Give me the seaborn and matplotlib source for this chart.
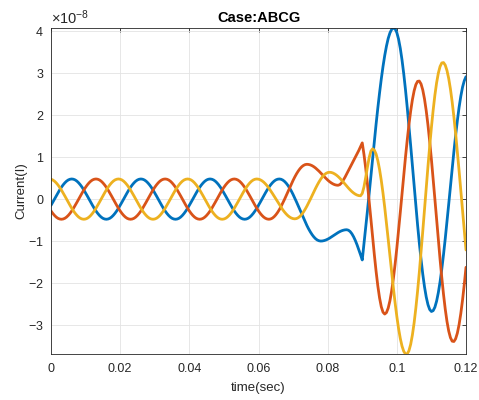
import numpy as np
import pandas as pd
import matplotlib
matplotlib.use("Agg")
import matplotlib.pyplot as plt
import seaborn as sns
from matplotlib.ticker import MultipleLocator, FixedLocator, FixedFormatter, ScalarFormatter

# Sampling grid of the recorded currents (seconds)
t_start = 0.0
t_step = 0.0005
n_samples = 241

# Phase currents in units of 1e-8
ia = [
    -0.148, -0.075,
    0, 0.075, 0.148, 0.218, 0.282, 0.339, 0.388, 0.428, 0.457, 0.474,
    0.48, 0.474, 0.457, 0.428, 0.388, 0.339, 0.282, 0.218, 0.148, 0.075,
    0, -0.075, -0.148, -0.218, -0.282, -0.339, -0.388, -0.428, -0.457, -0.474,
    -0.48, -0.474, -0.457, -0.428, -0.388, -0.339, -0.282, -0.218, -0.148, -0.075,
    0, 0.075, 0.148, 0.218, 0.282, 0.339, 0.388, 0.428, 0.457, 0.474,
    0.48, 0.474, 0.457, 0.428, 0.388, 0.339, 0.282, 0.218, 0.148, 0.075,
    0, -0.075, -0.148, -0.218, -0.282, -0.339, -0.388, -0.428, -0.457, -0.474,
    -0.48, -0.474, -0.457, -0.428, -0.388, -0.339, -0.282, -0.218, -0.148, -0.075,
    0, 0.075, 0.148, 0.218, 0.282, 0.339, 0.388, 0.428, 0.457, 0.474,
    0.48, 0.474, 0.457, 0.428, 0.388, 0.339, 0.282, 0.218, 0.148, 0.075,
    0, -0.075, -0.148, -0.218, -0.282, -0.339, -0.388, -0.428, -0.457, -0.474,
    -0.48, -0.474, -0.457, -0.428, -0.388, -0.339, -0.282, -0.218, -0.148, -0.075,
    0, 0.075, 0.148, 0.218, 0.282, 0.339, 0.388, 0.428, 0.457, 0.474,
    0.48, 0.474, 0.455, 0.424, 0.381, 0.327, 0.263, 0.191, 0.110, 0.023,
    -0.069, -0.163, -0.26, -0.357, -0.451, -0.543, -0.63, -0.711, -0.783, -0.847,
    -0.901, -0.944, -0.975, -0.993, -1.0,
    -0.997, -0.988, -0.974, -0.955, -0.933, -0.907, -0.879, -0.851, -0.823, -0.798,
    -0.775, -0.756, -0.742, -0.733, -0.73,
    -0.741, -0.773, -0.826, -0.898, -0.987, -1.09, -1.204, -1.325, -1.45,
    -1.067, -0.678, -0.281, 0.133, 0.552, 0.971, 1.385, 1.786, 2.170, 2.529,
    2.862, 3.161, 3.424, 3.647, 3.829, 3.960, 4.045, 4.079,
    4.058, 3.969, 3.813, 3.595, 3.317, 2.986, 2.609, 2.191, 1.744, 1.277,
    0.797, 0.315, -0.159, -0.616, -1.044, -1.436, -1.789, -2.090, -2.333, -2.515,
    -2.631, -2.679,
    -2.659, -2.577, -2.432, -2.229, -1.972, -1.667, -1.320, -0.942, -0.539, -0.120,
    0.305, 0.725, 1.133, 1.517, 1.870, 2.187, 2.453, 2.669, 2.822, 2.918,
]

ib = [
    -0.282, -0.339, -0.388, -0.428, -0.457, -0.474, -0.48, -0.474, -0.457, -0.428,
    -0.388, -0.339, -0.282, -0.218, -0.148, -0.075,
    0, 0.075, 0.148, 0.218, 0.282, 0.339, 0.388, 0.428, 0.457, 0.474,
    0.48, 0.474, 0.457, 0.428, 0.388, 0.339, 0.282, 0.218, 0.148, 0.075,
    0, -0.075, -0.148, -0.218, -0.282, -0.339, -0.388, -0.428, -0.457, -0.474,
    -0.48, -0.474, -0.457, -0.428, -0.388, -0.339, -0.282, -0.218, -0.148, -0.075,
    0, 0.075, 0.148, 0.218, 0.282, 0.339, 0.388, 0.428, 0.457, 0.474,
    0.48, 0.474, 0.457, 0.428, 0.388, 0.339, 0.282, 0.218, 0.148, 0.075,
    0, -0.075, -0.148, -0.218, -0.282, -0.339, -0.388, -0.428, -0.457, -0.474,
    -0.48, -0.474, -0.457, -0.428, -0.388, -0.339, -0.282, -0.218, -0.148, -0.075,
    0, 0.075, 0.148, 0.218, 0.282, 0.339, 0.388, 0.428, 0.457, 0.474,
    0.48, 0.474, 0.457, 0.428, 0.388, 0.339, 0.282, 0.218, 0.148, 0.075,
    0, -0.075, -0.148, -0.218, -0.282, -0.339, -0.388, -0.428, -0.457, -0.474,
    -0.48,
    -0.473, -0.454, -0.421,
    -0.376, -0.320, -0.254, -0.179, -0.097, -0.010, 0.082, 0.175, 0.268, 0.360,
    0.447, 0.529, 0.604, 0.670, 0.726, 0.771, 0.803, 0.823, 0.830,
    0.826, 0.815, 0.797, 0.772, 0.741, 0.705, 0.666, 0.623, 0.58, 0.537,
    0.495, 0.455, 0.419, 0.389, 0.364, 0.345, 0.334, 0.33,
    0.345, 0.385, 0.45, 0.52, 0.60, 0.68, 0.76, 0.84, 0.92, 1.0,
    1.08, 1.16, 1.25, 1.34,
    1.065, 0.736, 0.361, -0.047, -0.476, -0.908, -1.328, -1.72, -2.067, -2.352,
    -2.565, -2.695, -2.74,
    -2.704, -2.598, -2.425, -2.188, -1.894, -1.550, -1.166, -0.752, -0.315, 0.129,
    0.572, 1.000, 1.404, 1.773, 2.098, 2.370, 2.581, 2.729, 2.807,
    2.814, 2.745, 2.602, 2.387, 2.106, 1.767, 1.376, 0.945, 0.483, 0.003,
    -0.485, -0.968, -1.435, -1.873, -2.272, -2.623, -2.916, -3.144, -3.302, -3.386,
    -3.394, -3.329, -3.194, -2.991, -2.726, -2.404, -2.035, -1.625,
]

ic = [
    0.474, 0.457, 0.428, 0.388, 0.339, 0.282, 0.218, 0.148, 0.075,
    0, -0.075, -0.148, -0.218, -0.282, -0.339, -0.388, -0.428, -0.457, -0.474,
    -0.48, -0.474, -0.457, -0.428, -0.388, -0.339, -0.282, -0.218, -0.148, -0.075,
    0, 0.075, 0.148, 0.218, 0.282, 0.339, 0.388, 0.428, 0.457, 0.474,
    0.48, 0.474, 0.457, 0.428, 0.388, 0.339, 0.282, 0.218, 0.148, 0.075,
    0, -0.075, -0.148, -0.218, -0.282, -0.339, -0.388, -0.428, -0.457, -0.474,
    -0.48, -0.474, -0.457, -0.428, -0.388, -0.339, -0.282, -0.218, -0.148, -0.075,
    0, 0.075, 0.148, 0.218, 0.282, 0.339, 0.388, 0.428, 0.457, 0.474,
    0.48, 0.474, 0.457, 0.428, 0.388, 0.339, 0.282, 0.218, 0.148, 0.075,
    0, -0.075, -0.148, -0.218, -0.282, -0.339, -0.388, -0.428, -0.457, -0.474,
    -0.48, -0.474, -0.457, -0.428, -0.388, -0.339, -0.282, -0.218, -0.148, -0.075,
    0, 0.075, 0.148, 0.218, 0.282, 0.339, 0.388, 0.428, 0.457, 0.474, 0.48,
    0.475, 0.461, 0.437, 0.405, 0.364, 0.316, 0.262, 0.202, 0.139, 0.073,
    0.005, -0.063, -0.129, -0.192, -0.252, -0.306, -0.354, -0.395, -0.427, -0.451,
    -0.465, -0.47,
    -0.463, -0.443, -0.410, -0.364, -0.307, -0.241, -0.167, -0.087, -0.002, 0.085,
    0.172, 0.257, 0.337, 0.411, 0.477, 0.534, 0.580, 0.613, 0.633, 0.64,
    0.636, 0.623, 0.602, 0.574, 0.540, 0.50, 0.456, 0.409, 0.36, 0.311,
    0.264, 0.22, 0.18, 0.146, 0.118, 0.097, 0.084, 0.08,
    0.135, 0.291, 0.515, 0.765, 0.989, 1.145, 1.2,
    1.168, 1.074, 0.919, 0.709, 0.447, 0.142, -0.199, -0.568, -0.955, -1.349,
    -1.740, -2.119, -2.475, -2.797, -3.084, -3.321, -3.504, -3.629, -3.692,
    -3.690, -3.614, -3.462, -3.238, -2.948, -2.596, -2.193, -1.746, -1.266, -0.763,
    -0.246, 0.271, 0.777, 1.262, 1.712, 2.118, 2.477, 2.773, 3.003, 3.162, 3.246,
    3.255, 3.194, 3.066, 2.875, 2.624, 2.317, 1.960, 1.564, 1.133, 0.677,
    0.205, -0.273, -0.749, -1.212,
]

unit = 1e-8
phases = ["Ia", "Ib", "Ic"]
colors = ["#0072BD", "#D95319", "#EDB120"]

title_text = "Case:ABCG"
x_label = "time(sec)"
y_label = "Current(I)"
x_ticks = [0, 0.02, 0.04, 0.06, 0.08, 0.1, 0.12]
x_ticklabels = ["0", "0.02", "0.04", "0.06", "0.08", "0.1", "0.12"]

for name, series in zip(phases, [ia, ib, ic]):
    if len(series) != n_samples:
        raise ValueError(f"{name}: {len(series)} samples")

time = t_start + t_step * np.arange(n_samples)
df = pd.DataFrame({
    "time": np.tile(time, 3),
    "current": np.concatenate([ia, ib, ic]) * unit,
    "phase": np.repeat(phases, n_samples),
})

sns.set_style("white")
plt.rcParams["font.family"] = ["Liberation Sans", "DejaVu Sans"]
plt.rcParams["axes.unicode_minus"] = False
plt.rcParams["mathtext.fontset"] = "custom"
plt.rcParams["mathtext.rm"] = "Liberation Sans"
plt.rcParams["mathtext.it"] = "Liberation Sans:italic"

ink = "#262626"
fig = plt.figure(figsize=(4.79, 4.0), dpi=100)
ax = fig.add_axes([51 / 479, 1 - 354 / 400, 415 / 479, 326 / 400])

sns.lineplot(data=df, x="time", y="current", hue="phase", hue_order=phases,
             palette=colors, linewidth=2.0, legend=False, estimator=None,
             sort=False, ax=ax)

ax.set_xlim(0, 0.12)
ax.set_ylim(df["current"].min(), df["current"].max())

ax.xaxis.set_major_locator(FixedLocator(x_ticks))
ax.xaxis.set_major_formatter(FixedFormatter(x_ticklabels))
ax.yaxis.set_major_locator(MultipleLocator(unit))
fmt = ScalarFormatter(useMathText=True)
fmt.set_powerlimits((0, 0))
ax.yaxis.set_major_formatter(fmt)
ax.yaxis.get_offset_text().set_fontsize(10.5)
ax.yaxis.get_offset_text().set_color("#404040")

ax.grid(True, color="#e3e3e3", linewidth=0.6)
ax.set_axisbelow(True)
ax.tick_params(direction="in", length=3, width=0.6, top=True, right=True,
               colors=ink, labelsize=9)
ax.tick_params(axis="x", pad=6.5)
ax.tick_params(axis="y", pad=5)
for sp in ax.spines.values():
    sp.set_color(ink)
    sp.set_linewidth(0.6)

ax.set_xlabel(x_label, fontsize=9.5, color=ink, labelpad=5)
ax.set_ylabel(y_label, fontsize=9.5, color=ink, labelpad=0.5)
ax.set_title(title_text, fontsize=10.5, fontweight="bold", color="black", pad=4)

fig.savefig("out.png", dpi=100, facecolor="white")
